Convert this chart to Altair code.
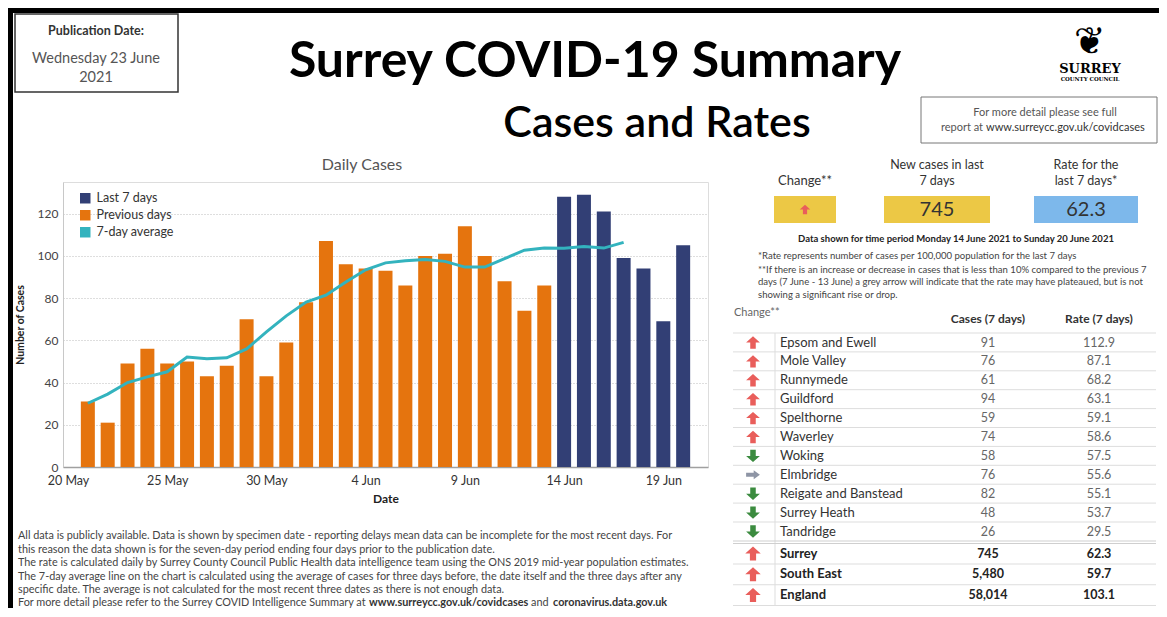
import altair as alt
import pandas as pd

# ---------------- data ----------------
first_bar_day = "2021-05-21"
daily_cases = [31, 21, 49, 56, 49, 50, 43, 48, 70, 43, 59,
               78, 107, 96, 94, 93, 86, 100, 101, 114, 100, 88, 74, 86,
               128, 129, 121, 99, 94, 69, 105]
periods = ["Previous days"] * 24 + ["Last 7 days"] * 7
avg7 = [30.2, 34.5, 40.0, 42.7, 45.1, 52.1, 51.3, 51.7, 55.9, 64.0, 71.6, 78.1,
        81.4, 87.6, 93.4, 96.7, 97.7, 98.3, 97.4, 94.7, 94.7, 98.7, 102.7, 103.7,
        103.6, 104.4, 103.7, 106.4]
legend_labels = ["Last 7 days", "Previous days", "7-day average"]
tick_days = [(5, 20), (5, 25), (5, 30), (6, 4), (6, 9), (6, 14), (6, 19)]
y_ticks = [0, 20, 40, 60, 80, 100, 120]

districts = ["Epsom and Ewell", "Mole Valley", "Runnymede", "Guildford", "Spelthorne",
             "Waverley", "Woking", "Elmbridge", "Reigate and Banstead", "Surrey Heath",
             "Tandridge"]
district_cases = [91, 76, 61, 94, 59, 74, 58, 76, 82, 48, 26]
district_rates = [112.9, 87.1, 68.2, 63.1, 59.1, 58.6, 57.5, 55.6, 55.1, 53.7, 29.5]
district_change = ["up", "up", "up", "up", "up", "up", "down", "right", "down", "down", "down"]

areas = ["Surrey", "South East", "England"]
area_cases = [745, 5480, 58014]
area_rates = [62.3, 59.7, 103.1]
area_change = ["up", "up", "up"]

kpi_cases = "745"
kpi_rate = "62.3"

# ---------------- style ----------------
FONT = "Lato"
NAVY = "#323F75"
ORANGE = "#E5740E"
TEAL = "#33B3BE"
YELLOW = "#ECC845"
BLUE = "#7DB8EB"
RED = "#E95E5B"
GREEN = "#3B8B3F"
GREY_ARROW = "#8E95A5"
LINE = "#dddddd"

OX, OY = 63, 182          # plot origin on the page
W, H = 645, 285


def ax(x):
    return x - OX


def ay(y):
    return y - OY


ONE = pd.DataFrame({"k": [0]})

UP = "M0,-0.9 L1,0 L0.4,0 L0.4,0.9 L-0.4,0.9 L-0.4,0 L-1,0 Z"
DOWN = "M0,0.9 L1,0 L0.4,0 L0.4,-0.9 L-0.4,-0.9 L-0.4,0 L-1,0 Z"
RIGHT = "M1,0 L0.1,-0.65 L0.1,-0.28 L-1,-0.28 L-1,0.28 L0.1,0.28 L0.1,0.65 Z"


def txt(s, x, y, size=12, weight="normal", color="#333", align="left",
        font=FONT, baseline="middle", angle=None):
    kw = dict(text=s, fontSize=size, fontWeight=weight, color=color,
              align=align, baseline=baseline, font=font)
    if angle is not None:
        kw["angle"] = angle
    return alt.Chart(ONE).mark_text(**kw).encode(x=alt.value(ax(x)), y=alt.value(ay(y)))


def box(x1, y1, x2, y2, fill="white", stroke=None, sw=1):
    kw = dict(fill=fill)
    if stroke:
        kw.update(stroke=stroke, strokeWidth=sw)
    return alt.Chart(ONE).mark_rect(**kw).encode(
        x=alt.value(ax(x1)), x2=alt.value(ax(x2)),
        y=alt.value(ay(y1)), y2=alt.value(ay(y2)))


def hline(x1, x2, y, color=LINE, sw=1):
    return alt.Chart(ONE).mark_rule(color=color, strokeWidth=sw).encode(
        x=alt.value(ax(x1)), x2=alt.value(ax(x2)), y=alt.value(ay(y)))


def vline(x, y1, y2, color=LINE, sw=1):
    return alt.Chart(ONE).mark_rule(color=color, strokeWidth=sw).encode(
        x=alt.value(ax(x)), y=alt.value(ay(y1)), y2=alt.value(ay(y2)))


def arrow(shape, color, x, y, size):
    return alt.Chart(ONE).mark_point(shape=shape, filled=True, color=color, size=size,
                                     opacity=1, strokeWidth=0).encode(
        x=alt.value(ax(x)), y=alt.value(ay(y)))


# ---------------- bar chart ----------------
bars_df = pd.DataFrame({
    "date": pd.date_range(first_bar_day, periods=len(daily_cases), freq="D"),
    "cases": daily_cases,
    "period": periods,
})
avg_df = pd.DataFrame({
    "date": pd.date_range(first_bar_day, periods=len(avg7), freq="D"),
    "cases": avg7,
})

X = alt.X("date:T",
          scale=alt.Scale(domain=[alt.DateTime(year=2021, month=5, date=20),
                                  alt.DateTime(year=2021, month=6, date=21)]),
          axis=alt.Axis(values=[alt.DateTime(year=2021, month=m, date=d) for m, d in tick_days],
                        format="%-d %b", labelFlush=True, grid=False, ticks=False,
                        domainColor="#a0a0a0", domainWidth=1.5,
                        labelFont=FONT, labelFontSize=12.5, labelColor="#333", labelPadding=7,
                        title="Date", titleFont=FONT, titleFontSize=12, titleFontWeight="bold",
                        titleColor="#222", titlePadding=7))
Y = alt.Y("cases:Q", scale=alt.Scale(domain=[0, 135], nice=False),
          axis=alt.Axis(values=y_ticks, grid=True, gridDash=[1, 2], gridColor="#bdbdbd",
                        ticks=False, domain=True, domainColor="#c8c8c8",
                        labelFont=FONT, labelFontSize=12, labelColor="#444", labelPadding=5,
                        title="Number of Cases", titleFont=FONT, titleFontSize=10.5,
                        titleFontWeight="bold", titleColor="#222", titlePadding=12))

bars = alt.Chart(bars_df).mark_bar(size=14).encode(
    x=X, y=Y,
    color=alt.Color("period:N",
                    scale=alt.Scale(domain=legend_labels, range=[NAVY, ORANGE, TEAL]),
                    legend=alt.Legend(title=None, orient="none", legendX=16, legendY=10,
                                      symbolType="square", symbolSize=110, symbolStrokeWidth=0,
                                      labelFont=FONT, labelFontSize=12.5, labelColor="#333",
                                      labelOffset=5, rowPadding=4, padding=0)))
avg_line = alt.Chart(avg_df).mark_line(color=TEAL, strokeWidth=3).encode(x="date:T", y="cases:Q")
chart_group = alt.layer(bars, avg_line)

# ---------------- table ----------------
d_df = pd.DataFrame({"name": districts, "cases": district_cases,
                     "rate": district_rates, "change": district_change})
a_df = pd.DataFrame({"name": areas, "cases": area_cases,
                     "rate": area_rates, "change": area_change})

YD = alt.Y("name:N", axis=None,
           scale=alt.Scale(type="point", domain=districts, range=[ay(342.5), ay(531.5)], padding=0))
YA = alt.Y("name:N", axis=None,
           scale=alt.Scale(type="point", domain=areas, range=[ay(553.5), ay(595)], padding=0))

TL, TR = 733, 1156


def table_group(df, YS, bold, line_offset, arrow_size):
    base = alt.Chart(df)
    layers = [
        base.mark_rule(color=LINE, yOffset=line_offset).encode(
            x=alt.value(ax(TL)), x2=alt.value(ax(TR)), y=YS),
    ]
    for key, shape, col in [("up", UP, RED), ("down", DOWN, GREEN), ("right", RIGHT, GREY_ARROW)]:
        if key in list(df["change"]):
            layers.append(base.transform_filter(alt.datum.change == key).mark_point(
                shape=shape, filled=True, color=col, size=arrow_size, opacity=1, strokeWidth=0
            ).encode(x=alt.value(ax(753)), y=YS))
    w = "bold" if bold else "normal"
    layers += [
        base.mark_text(align="left", font=FONT, fontSize=13, fontWeight=w,
                       color="#222" if bold else "#333").encode(
            x=alt.value(ax(780)), y=YS, text="name:N"),
        base.mark_text(align="center", font=FONT, fontSize=12.5, fontWeight=w,
                       color="#222" if bold else "#666").encode(
            x=alt.value(ax(988)), y=YS, text=alt.Text("cases:Q", format=",")),
        base.mark_text(align="center", font=FONT, fontSize=12.5, fontWeight=w,
                       color="#222" if bold else "#666").encode(
            x=alt.value(ax(1099)), y=YS, text=alt.Text("rate:Q", format=".1f")),
    ]
    return alt.layer(*layers)


district_group = table_group(d_df, YD, False, -9.5, 190)
area_group = table_group(a_df, YA, True, 10.5, 240)

NOTE = 10.85
RNOTE = 9.55

# ---------------- static dashboard pieces ----------------
statics = [
    box(8, 8, 1159, 13, fill="black"),
    box(8, 8, 13, 608, fill="black"),
    # publication date box
    box(15, 14, 178, 92, fill="white", stroke="#333", sw=1.5),
    txt("Publication Date:", 96, 31, size=12.5, weight="bold", color="#333", align="center"),
    txt("Wednesday 23 June", 96, 59, size=14.5, color="#555", align="center"),
    txt("2021", 96, 78, size=14.5, color="#555", align="center"),
    # titles
    txt("Surrey COVID-19 Summary", 595, 77, size=50, weight="bold", color="#000",
        align="center", baseline="alphabetic"),
    txt("Cases and Rates", 657, 137, size=43, weight=600, color="#000",
        align="center", baseline="alphabetic"),
    # logo
    txt("\u2766", 1090, 43, size=38, color="#000", align="center", font="DejaVu Sans"),
    txt("SURREY", 1090, 69, size=13, weight="bold", color="#000", align="center",
        font="DejaVu Serif"),
    txt("COUNTY COUNCIL", 1090, 78.5, size=5.5, weight="bold", color="#000", align="center",
        font="DejaVu Serif"),
    # link box
    box(921, 97, 1157, 143, fill="white", stroke="#777", sw=1),
    txt("For more detail please see full", 1045, 113, size=11, color="#555", align="center"),
    txt("report at", 983, 128, size=11, color="#555", align="right"),
    txt("www.surreycc.gov.uk/covidcases", 986, 128, size=11, color="#333", align="left"),
    # chart title
    txt("Daily Cases", 362, 165, size=16, color="#555", align="center"),
    # KPI block
    txt("Change**", 805, 181, size=13, color="#333", align="center"),
    txt("New cases in last", 937, 165, size=12.5, color="#333", align="center"),
    txt("7 days", 937, 181, size=12.5, color="#333", align="center"),
    txt("Rate for the", 1086, 165, size=12.5, color="#333", align="center"),
    txt("last 7 days*", 1086, 181, size=12.5, color="#333", align="center"),
    box(774, 196, 836, 223, fill=YELLOW),
    box(884, 196, 990, 223, fill=YELLOW),
    box(1034, 196, 1138, 223, fill=BLUE),
    arrow(UP, RED, 805, 209.5, 110),
    txt(kpi_cases, 937, 210, size=20, color="#333", align="center"),
    txt(kpi_rate, 1086, 210, size=20, color="#333", align="center"),
    txt("Data shown for time period Monday 14 June 2021 to Sunday 20 June 2021", 956, 239,
        size=9.5, weight="bold", color="#222", align="center"),
    txt("*Rate represents number of cases per 100,000 population for the last 7 days",
        758, 256, size=RNOTE, color="#444"),
    txt("**If there is an increase or decrease in cases that is less than 10% compared to the previous 7",
        758, 269.5, size=RNOTE, color="#444"),
    txt("days (7 June - 13 June) a grey arrow will indicate that the rate may have plateaued, but is not",
        758, 282, size=RNOTE, color="#444"),
    txt("showing a significant rise or drop.", 758, 294.5, size=RNOTE, color="#444"),
    # table headers and frame
    txt("Change**", 734, 313, size=11, color="#666"),
    txt("Cases  (7 days)", 988, 319, size=12, weight="bold", color="#333", align="center"),
    txt("Rate (7 days)", 1099, 319, size=12, weight="bold", color="#333", align="center"),
    vline(775, 333, 606),
    hline(TL, TR, 541, color="#cfcfcf", sw=1),
    hline(TL, TR, 543.5, color="#cfcfcf", sw=1),
    # bottom notes
    txt("All data is publicly available. Data is shown by specimen date - reporting delays mean data can be incomplete for the most recent days. For",
        18, 536, size=NOTE, color="#444"),
    txt("this reason the data shown is for the seven-day period ending four days prior to the publication date.",
        18, 549.5, size=NOTE, color="#444"),
    txt("The rate is calculated daily by Surrey County Council Public Health data intelligence team using the ONS 2019 mid-year population estimates.",
        18, 563, size=NOTE, color="#444"),
    txt("The 7-day average line on the chart is calculated using the average of cases for three days before, the date itself and the three days after any",
        18, 576.5, size=NOTE, color="#444"),
    txt("specific date. The average is not calculated for the most recent three dates as there is not enough data.",
        18, 590, size=NOTE, color="#444"),
    txt("For more detail please refer to the Surrey COVID Intelligence Summary at",
        18, 603, size=NOTE, color="#444"),
    txt("www.surreycc.gov.uk/covidcases", 369, 603, size=NOTE, weight="bold", color="#333"),
    txt("and", 531, 603, size=NOTE, color="#444"),
    txt("coronavirus.data.gov.uk", 553, 603, size=NOTE, weight="bold", color="#333"),
]

chart = alt.layer(*statics, chart_group, district_group, area_group).resolve_scale(
    y="independent"
).properties(
    width=W, height=H, padding=0
).configure_view(stroke=None).configure(font=FONT, background="white")

chart.save("out.html", embed_options={"renderer": "svg", "actions": False})
